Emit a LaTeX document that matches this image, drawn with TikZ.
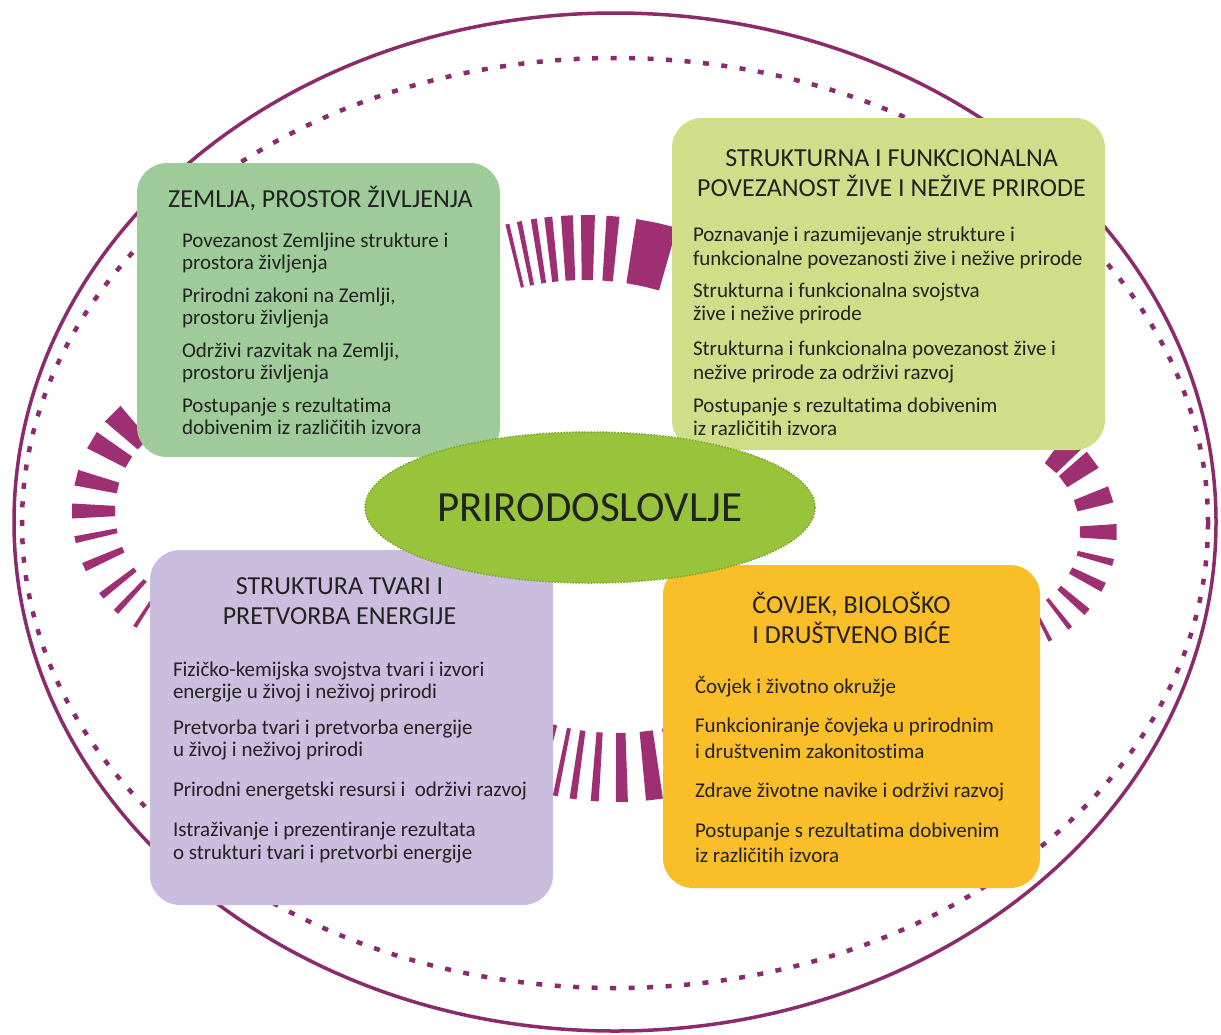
\documentclass[tikz,border=0pt]{standalone}
\usepackage{fontspec}
\setmainfont{Carlito}[Ligatures=NoCommon]
\usetikzlibrary{shapes.geometric, positioning}

\definecolor{ring}{HTML}{8C2B6B}
\definecolor{bar}{HTML}{9E2F72}
\definecolor{ink}{HTML}{222222}
\definecolor{zemljafill}{HTML}{9FCB9A}
\definecolor{povezfill}{HTML}{D0DE8A}
\definecolor{tvarifill}{HTML}{CABDDD}
\definecolor{covjekfill}{HTML}{F9BE28}
\definecolor{corefill}{HTML}{98C43C}
\definecolor{coreline}{HTML}{7FA52E}

\tikzstyle{topic} = [
    rectangle,
    rounded corners=30pt,
    inner sep=0pt
]
\tikzstyle{boxhead} = [
    align=center,
    inner sep=0pt,
    text=ink,
    font=\fontsize{26}{30}\selectfont
]
\tikzstyle{itemlist} = [
    align=left,
    inner sep=0pt,
    text=ink,
    font=\fontsize{21}{22}\selectfont
]
\tikzstyle{core} = [
    ellipse,
    fill=corefill,
    draw=coreline,
    line width=1.5pt,
    dash pattern=on 1.5pt off 1.5pt,
    inner sep=0pt,
    minimum width=450pt,
    minimum height=151pt,
    text=ink,
    font=\fontsize{43}{48}\selectfont
]
\tikzstyle{ray} = [fill=bar]

\begin{document}
\begin{tikzpicture}[x=1pt, y=1pt]

\fill [white] (0,0) rectangle (1221,-1034);
\useasboundingbox (0,0) rectangle (1221,-1034);

\draw [ring, line width=3.5pt] (615,-522) ellipse [x radius=601pt, y radius=509pt];
\draw [ring, line width=4.5pt, dash pattern=on 6pt off 12.5pt] (615,-523) ellipse [x radius=593pt, y radius=465pt];

\begin{scope}[shift={(210,-511)}]
\foreach \a/\w in {135/22, 149/19, 166/16, 180/15, 192/7, 204/9, 218/7, 227/6, 237/4}
    \fill [ray] ({\a-\w*28.65/138}:95) -- ({\a-\w*28.65/138}:138) -- ({\a+\w*28.65/138}:138) -- ({\a+\w*28.65/138}:95) -- cycle;
\end{scope}

\begin{scope}[shift={(995,-532)}]
\foreach \a/\w in {49/22, 36.5/20, 18/17, 0/16, -14.5/7, -27/10, -41/8, -52/5, -63/4}
    \fill [ray] ({\a-\w*28.65/122}:85) -- ({\a-\w*28.65/122}:122) -- ({\a+\w*28.65/122}:122) -- ({\a+\w*28.65/122}:85) -- cycle;
\end{scope}

\begin{scope}[shift={(585,-550)}]
\foreach \a/\w in {103.4/4, 101.3/5, 98.8/6, 96.3/8, 93.1/12, 89.5/14, 85.2/13, 79.3/22, 75.8/20}
    \fill [ray] ({\a-\w*28.65/335}:270) -- ({\a-\w*28.65/335}:335) -- ({\a+\w*28.65/335}:335) -- ({\a+\w*28.65/335}:270) -- cycle;
\end{scope}

\begin{scope}[shift={(617,-490)}]
\foreach \a/\w in {-105/8, -101.4/5, -98.1/7, -94.1/8, -89.1/12, -83.1/17, -77.5/20}
    \fill [ray] ({\a-\w*28.65/312}:243) -- ({\a-\w*28.65/312}:312) -- ({\a+\w*28.65/312}:312) -- ({\a+\w*28.65/312}:243) -- cycle;
\end{scope}

\node (zemlja) [topic, fill=zemljafill, minimum width=363pt, minimum height=294pt] at (318.5,-310) {};

\node (povezanost) [topic, fill=povezfill, minimum width=433pt, minimum height=332pt] at (888.5,-284) {};

\node (tvari) [topic, fill=tvarifill, minimum width=403pt, minimum height=355pt] at (351.5,-727.5) {};

\node (covjek) [topic, fill=covjekfill, minimum width=377pt, minimum height=323pt] at (851.5,-726.5) {};

\node (zemlja-head) [boxhead, below=23pt of zemlja.north, xshift=2pt]
{ZEMLJA, PROSTOR ŽIVLJENJA};

\node (zemlja-list) [itemlist, below right=70pt and 45pt of zemlja.north west]
{Povezanost Zemljine strukture i\\prostora življenja\\[11pt]
Prirodni zakoni na Zemlji,\\prostoru življenja\\[11pt]
Održivi razvitak na Zemlji,\\prostoru življenja\\[11pt]
Postupanje s rezultatima\\dobivenim iz različitih izvora};

\node (povezanost-head) [boxhead, below=32pt of povezanost.north, xshift=3pt]
{STRUKTURNA I FUNKCIONALNA\\POVEZANOST ŽIVE I NEŽIVE PRIRODE};

\node (povezanost-list) [itemlist, below right=109pt and 21pt of povezanost.north west]
{Poznavanje i razumijevanje strukture i\\[1.5pt]funkcionalne povezanosti žive i nežive prirode\\[10pt]
Strukturna i funkcionalna svojstva\\[1.5pt]žive i nežive prirode\\[13pt]
Strukturna i funkcionalna povezanost žive i\\[1.5pt]nežive prirode za održivi razvoj\\[11pt]
Postupanje s rezultatima dobivenim\\[1.5pt]iz različitih izvora};

\node (tvari-head) [boxhead, below=28pt of tvari.north, xshift=-12pt]
{STRUKTURA TVARI I\\PRETVORBA ENERGIJE};

\node (tvari-list) [itemlist, below right=112pt and 23pt of tvari.north west]
{Fizičko-kemijska svojstva tvari i izvori\\energije u živoj i neživoj prirodi\\[14pt]
Pretvorba tvari i pretvorba energije\\u živoj i neživoj prirodi\\[18pt]
Prirodni energetski resursi i\ \ održivi razvoj\\[18pt]
Istraživanje i prezentiranje rezultata\\[1pt]o strukturi tvari i pretvorbi energije};

\node (covjek-head) [boxhead, below=27pt of covjek.north]
{ČOVJEK, BIOLOŠKO\\I DRUŠTVENO BIĆE};

\node (covjek-list) [itemlist, below right=111pt and 32pt of covjek.north west]
{Čovjek i životno okružje\\[17pt]
Funkcioniranje čovjeka u prirodnim\\[4pt]i društvenim zakonitostima\\[17pt]
Zdrave životne navike i održivi razvoj\\[18pt]
Postupanje s rezultatima dobivenim\\[3pt]iz različitih izvora};

\node (prirodoslovlje) [core] at (590,-507.5) {PRIRODOSLOVLJE};

\end{tikzpicture}
\end{document}
